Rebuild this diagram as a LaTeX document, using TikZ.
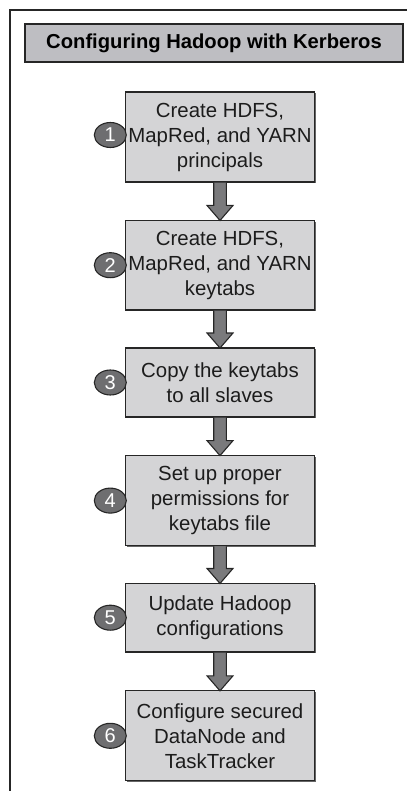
\documentclass[tikz,border=0pt]{standalone}
\usepackage{fontspec}
\setmainfont{Liberation Sans}
\usetikzlibrary{shapes.geometric,calc,shadows}

\definecolor{boxfill}{RGB}{212,212,214}
\definecolor{titlefill}{RGB}{190,190,194}
\definecolor{arrowfill}{RGB}{122,122,124}
\definecolor{numfill}{RGB}{110,110,112}
\definecolor{edge}{RGB}{38,38,38}
\definecolor{ink}{RGB}{28,28,28}

% thick block arrow from the bottom of one step to the top of the next
\newcommand\fatarrow[2]{%
  \draw[edge, line width=1.1pt, fill=arrowfill, line join=miter]
    let \p1=(#1.south), \p2=(#2.north) in
    (\x1-6.3pt,\y1-0.65pt) -- (\x1-6.3pt,\y2+15pt) -- (\x1-13pt,\y2+15pt)
    -- (\x1,\y2) -- (\x1+13pt,\y2+15pt) -- (\x1+6.3pt,\y2+15pt)
    -- (\x1+6.3pt,\y1-0.65pt);%
}

\begin{document}
\begin{tikzpicture}[x=1pt,y=-1pt,
  boxshadow/.style={drop shadow={shadow xshift=1.2pt, shadow yshift=-1.2pt, fill=black!60, opacity=1}},
  stepbox/.style={draw=edge, line width=1.3pt, fill=boxfill, minimum width=188.6pt,
    inner sep=0pt, outer sep=0pt, align=center, text=ink,
    font=\fontsize{20.4}{25}\selectfont, boxshadow},
  titlebox/.style={draw=edge, line width=1.3pt, fill=titlefill, minimum width=378pt,
    minimum height=38pt, inner sep=0pt, outer sep=0pt, text=black,
    font=\bfseries\fontsize{20.2}{24}\selectfont, boxshadow},
  numcirc/.style={ellipse, draw=edge, line width=1.1pt, fill=numfill,
    minimum width=32pt, minimum height=25pt, inner sep=0pt, outer sep=0pt,
    text=white, font=\fontsize{20}{20}\selectfont, anchor=east},
]
\useasboundingbox (0,0) rectangle (407,791);

% outer frame (open at the right and bottom)
\draw[edge, line width=1.3pt] (10,791) -- (10,10) -- (407,10);

\node[titlebox] (title) at (214,43) {Configuring Hadoop with Kerberos};

\node[stepbox, minimum height=90pt] (b1) at (220,137) {Create HDFS,\\MapRed, and YARN\\principals};
\node[stepbox, minimum height=89.5pt] (b2) at (220,265.2) {Create HDFS,\\MapRed, and YARN\\keytabs};
\node[stepbox, minimum height=69pt] (b3) at (220,382.5) {Copy the keytabs\\to all slaves};
\node[stepbox, minimum height=90pt] (b4) at (220,500.6) {Set up proper\\permissions for\\keytabs file};
\node[stepbox, minimum height=68.5pt] (b5) at (220,617.7) {Update Hadoop\\configurations};
\node[stepbox, minimum height=90pt] (b6) at (220,735.8) {Configure secured\\DataNode and\\TaskTracker};

\fatarrow{b1}{b2}
\fatarrow{b2}{b3}
\fatarrow{b3}{b4}
\fatarrow{b4}{b5}
\fatarrow{b5}{b6}

\node[numcirc] (n1) at ([xshift=0.6pt,yshift=2pt]b1.west) {1};
\node[numcirc] (n2) at ([xshift=0.6pt]b2.west) {2};
\node[numcirc] (n3) at ([xshift=0.6pt]b3.west) {3};
\node[numcirc] (n4) at ([xshift=0.6pt]b4.west) {4};
\node[numcirc] (n5) at ([xshift=0.6pt]b5.west) {5};
\node[numcirc] (n6) at ([xshift=0.6pt]b6.west) {6};
\end{tikzpicture}
\end{document}
